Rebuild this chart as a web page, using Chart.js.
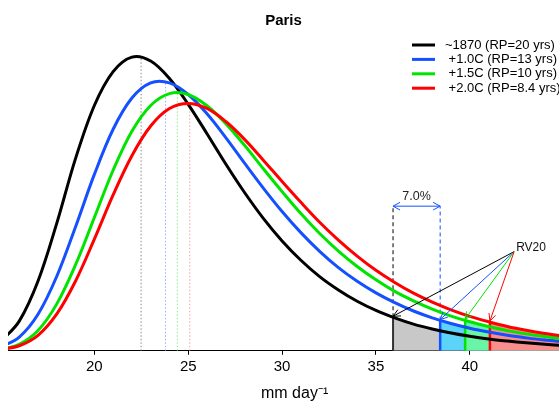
<!DOCTYPE html>
<html><head><meta charset="utf-8">
<script src="https://cdn.jsdelivr.net/npm/chart.js@4.4.1/dist/chart.umd.min.js"></script>
<style>html,body{margin:0;padding:0;background:#fff;}canvas{display:block;}</style>
</head><body>
<canvas id="c" width="559" height="404"></canvas>
<script>
// ---- data (density x1000, per mm day-1) ----
const mmDay     = [15,16,17,18,19,20,21,22,23,24,25,26,27,28,29,30,31,32,33,34,35,36,37,38,39,40,41,42,43,44,45];
const dens1870  = [3.0,10.0,23.5,43.0,64.8,82.6,94.0,98.9,97.6,91.7,83.0,73.1,62.9,53.3,44.6,37.0,30.5,25.0,20.5,16.7,13.6,11.1,9.0,7.35,6.0,4.9,4.0,3.3,2.7,2.2,1.8];
const densP10   = [1.2,4.6,12.3,25.1,41.8,59.4,74.6,85.1,90.2,90.2,86.3,79.8,71.8,63.2,54.8,46.9,39.8,33.5,28.0,23.4,19.5,16.2,13.4,11.1,9.2,7.6,6.3,5.2,4.35,3.6,3.0];
const densP15   = [0.5,2.2,6.85,15.8,29.0,44.9,60.8,73.9,82.6,86.6,86.3,82.5,76.5,69.2,61.3,53.6,46.2,39.5,33.6,28.4,23.9,20.0,16.8,14.0,11.7,9.8,8.2,6.8,5.7,4.8,4.0];
const densP20   = [0.4,1.7,5.2,12.4,23.5,37.6,52.5,65.7,75.7,81.6,83.3,81.6,77.2,71.2,64.2,57.0,50.0,43.3,37.3,31.9,27.1,23.0,19.4,16.4,13.8,11.6,9.8,8.2,6.9,5.8,4.9];
const seriesLabels = ['~1870 (RP=20 yrs)', ' +1.0C (RP=13 yrs)', ' +1.5C (RP=10 yrs)', ' +2.0C (RP=8.4 yrs)'];
const modeX       = [22.49, 23.79, 24.42, 25.08];
const modeDensity = [98.6, 90.2, 86.5, 83.1];
const rv20        = [35.91, 38.42, 39.75, 41.07];
const rv20Density = [11.3, 10.2, 10.3, 9.7];
const xTicks = [20, 25, 30, 35, 40];
const titleText = 'Paris';
const rvLabel = 'RV20';
const xLabel = 'mm day\u207B\u00B9';

// ---- styles ----
const seriesColors = ['#000000', '#1450ff', '#00e400', '#ff0000'];
const fillColors   = ['#c8c8c8', '#5cd3f8', '#6af5a6', '#fb8d8d'];
const modeColors   = ['#8a8a8a', '#9aaeff', '#8bee8b', '#ff9b9b'];
const rvLineColors = ['#333333', '#1450ff', '#00e400', '#ff0000'];
const arrowLevel = 48.7;
const rvAnchor = {x: 42.36, y: 33.4};
const FONT = '"Liberation Sans", Arial, Helvetica, sans-serif';

const allSeries = [dens1870, densP10, densP15, densP20];
const pts = arr => mmDay.map((x, i) => ({x: x, y: arr[i]}));
const curve = {tension: 0.35, pointRadius: 0};

const datasets = [];
allSeries.forEach((arr, k) => {
  const d = [{x: rv20[k], y: rv20Density[k]}].concat(pts(arr).filter(p => p.x > rv20[k]));
  datasets.push(Object.assign({data: d, fill: 'origin', backgroundColor: fillColors[k], borderColor: 'rgba(0,0,0,0)',
    borderWidth: 1, order: 20 - k}, curve));
});
modeX.forEach((mx, k) => {
  datasets.push({data: [{x: mx, y: 0}, {x: mx, y: modeDensity[k]}], borderColor: modeColors[k],
    borderWidth: 1, borderDash: [1.5, 2], pointRadius: 0, fill: false, order: 12});
});
rv20.forEach((rx, k) => {
  datasets.push({data: [{x: rx, y: 0}, {x: rx, y: rv20Density[k]}], borderColor: rvLineColors[k],
    borderWidth: k === 0 ? 2 : 2.5, pointRadius: 0, fill: false, order: 11});
});
[0, 1].forEach(k => {
  datasets.push({data: [{x: rv20[k], y: rv20Density[k]}, {x: rv20[k], y: arrowLevel}], borderColor: seriesColors[k],
    borderWidth: 1, borderDash: [4, 3], pointRadius: 0, fill: false, order: 10});
});
allSeries.forEach((arr, k) => {
  datasets.push(Object.assign({label: seriesLabels[k], data: pts(arr), borderColor: seriesColors[k], borderWidth: 3,
    fill: false, order: 4 - k, isSeries: true}, curve));
});

function arrowHead(ctx, fx, fy, tx, ty, len, ang) {
  const a = Math.atan2(ty - fy, tx - fx);
  ctx.beginPath();
  ctx.moveTo(tx - len * Math.cos(a - ang), ty - len * Math.sin(a - ang));
  ctx.lineTo(tx, ty);
  ctx.lineTo(tx - len * Math.cos(a + ang), ty - len * Math.sin(a + ang));
  ctx.stroke();
}

const annot = {
  id: 'annot',
  afterDatasetsDraw(chart) {
    const {ctx} = chart; const x = chart.scales.x, y = chart.scales.y;
    ctx.save();
    const x0 = x.getPixelForValue(rv20[0]), x1 = x.getPixelForValue(rv20[1]), ya = y.getPixelForValue(arrowLevel);
    ctx.strokeStyle = seriesColors[1]; ctx.lineWidth = 1;
    ctx.beginPath(); ctx.moveTo(x0, ya); ctx.lineTo(x1, ya); ctx.stroke();
    arrowHead(ctx, x1, ya, x0, ya, 8, 0.5);
    arrowHead(ctx, x0, ya, x1, ya, 8, 0.5);
    const pct = ((rv20[1] / rv20[0] - 1) * 100).toFixed(1) + '%';
    ctx.fillStyle = '#222'; ctx.font = '12.5px ' + FONT; ctx.textAlign = 'center'; ctx.textBaseline = 'middle';
    ctx.fillText(pct, (x0 + x1) / 2, ya - 10);
    const ax = x.getPixelForValue(rvAnchor.x), ay = y.getPixelForValue(rvAnchor.y);
    rv20.forEach((rx, k) => {
      const tx = x.getPixelForValue(rx), ty = y.getPixelForValue(rv20Density[k]) - 1;
      ctx.strokeStyle = seriesColors[k]; ctx.lineWidth = 1;
      ctx.beginPath(); ctx.moveTo(ax, ay); ctx.lineTo(tx, ty); ctx.stroke();
      arrowHead(ctx, ax, ay, tx, ty, 8, 0.45);
    });
    ctx.fillStyle = '#111'; ctx.font = '12px ' + FONT; ctx.textAlign = 'left'; ctx.textBaseline = 'middle';
    ctx.fillText(rvLabel, ax + 2, ay - 4);
    ctx.restore();
  },
  afterDraw(chart) {
    const {ctx} = chart;
    ctx.save();
    ctx.font = '13px ' + FONT; ctx.textBaseline = 'middle'; ctx.textAlign = 'left';
    chart.data.datasets.filter(d => d.isSeries).forEach((d, i) => {
      const yy = 45 + i * 14.4;
      ctx.strokeStyle = d.borderColor; ctx.lineWidth = 3;
      ctx.beginPath(); ctx.moveTo(412, yy); ctx.lineTo(435, yy); ctx.stroke();
      ctx.fillStyle = '#000'; ctx.fillText(d.label, 445, yy);
    });
    ctx.restore();
  }
};

Chart.defaults.font.family = FONT;
new Chart(document.getElementById('c'), {
  type: 'line',
  data: {datasets: datasets},
  options: {
    responsive: false, animation: false, devicePixelRatio: 1,
    events: [],
    layout: {padding: {left: 8, right: 0, top: 0, bottom: 0}},
    plugins: {
      legend: {display: false}, tooltip: {enabled: false},
      title: {display: true, text: titleText, fullSize: false, color: '#000',
        font: {size: 15, weight: 'bold'}, padding: {top: 12, bottom: 6}}
    },
    scales: {
      x: {type: 'linear', min: 15.4, max: 44.75, offset: false,
        afterBuildTicks: s => { s.ticks = xTicks.map(v => ({value: v})); },
        grid: {display: true, drawOnChartArea: false, drawTicks: true, tickLength: 4, color: '#000', lineWidth: 1},
        border: {display: true, color: '#000', width: 1},
        ticks: {color: '#000', font: {size: 15}, padding: 3, maxRotation: 0, autoSkip: false},
        title: {display: true, text: '     ' + xLabel, color: '#000', font: {size: 16}, padding: {top: 5, bottom: 1}}
      },
      y: {display: false, min: 0, max: 106}
    }
  },
  plugins: [annot]
});
</script>
</body></html>
